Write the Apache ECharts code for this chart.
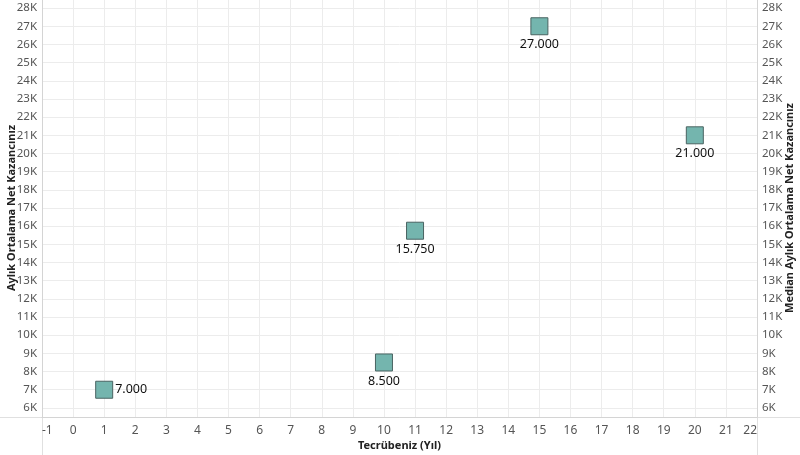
<!DOCTYPE html>
<html><head><meta charset="utf-8">
<script src="https://cdn.jsdelivr.net/npm/echarts@6/dist/echarts.min.js"></script>
<style>html,body{margin:0;padding:0;background:#fff}#c{width:800px;height:455px}</style>
</head><body><div id="c"></div>
<script>
const experienceYears = [1, 10, 11, 15, 20];
const netIncome = [7000, 8500, 15750, 27000, 21000];
const yTicks = [6000,7000,8000,9000,10000,11000,12000,13000,14000,15000,16000,17000,18000,19000,20000,21000,22000,23000,24000,25000,26000,27000,28000];

function fmtNum(v){ return String(v).replace(/\B(?=(\d{3})+(?!\d))/g, '.'); }
const FONT = 'Noto Sans';
const chart = echarts.init(document.getElementById('c'), null, {renderer:'canvas'});
const data = experienceYears.map((x,i)=>({
  value:[x, netIncome[i]],
  label:{position: i===0 ? 'right' : 'bottom', distance: i===0 ? 2 : 3}
}));
const yAxisBase = {
  type:'value', min:5500, max:28500,
  axisLabel:{customValues:yTicks, formatter:v=>(v/1000)+'K', color:'#555', fontFamily:FONT, fontSize:11.5, margin:5},
  axisTick:{show:false, customValues:yTicks},
  splitLine:{show:true, lineStyle:{color:'#ececec', width:1}},
  axisLine:{show:true, onZero:false, lineStyle:{color:'#d4d4d4'}},
  nameLocation:'middle', nameRotate:90, nameMoveOverlap:false,
  nameTextStyle:{color:'#222', fontWeight:'bold', fontFamily:FONT, fontSize:11}
};
chart.setOption({
  animation:false,
  grid:{left:42, right:43, top:-1, bottom:38, outerBoundsMode:'none', containLabel:false},
  xAxis:{type:'value', min:-1, max:22, interval:1,
    axisLabel:{color:'#555', fontFamily:FONT, fontSize:12, margin:8, alignMinLabel:'left', alignMaxLabel:'right'},
    axisTick:{show:false},
    splitLine:{show:true, lineStyle:{color:'#ececec'}},
    axisLine:{show:true, onZero:false, lineStyle:{color:'#d4d4d4'}},
    name:'Tecrübeniz (Yıl)', nameLocation:'middle', nameGap:23, nameMoveOverlap:false,
    nameTextStyle:{color:'#222', fontWeight:'bold', fontFamily:FONT, fontSize:11}
  },
  yAxis:[
    Object.assign({}, yAxisBase, {position:'left', name:'Aylık Ortalama Net Kazancınız', nameGap:25}),
    Object.assign({}, yAxisBase, {position:'right', name:'Median Aylık Ortalama Net Kazancınız', nameGap:27,
      splitLine:{show:false}})
  ],
  graphic:[
    {type:'line', shape:{x1:0,y1:417.5,x2:800,y2:417.5}, style:{stroke:'#e0e0e0', lineWidth:1}, z:-1},
    {type:'line', shape:{x1:42.5,y1:417,x2:42.5,y2:455}, style:{stroke:'#e0e0e0', lineWidth:1}, z:-1},
    {type:'line', shape:{x1:757.5,y1:417,x2:757.5,y2:455}, style:{stroke:'#e0e0e0', lineWidth:1}, z:-1}
  ],
  series:[{
    type:'scatter', yAxisIndex:0, symbol:'rect', symbolSize:17,
    itemStyle:{color:'#74b5ae', borderColor:'#4a6462', borderWidth:1, opacity:1},
    label:{show:true, formatter:p=>fmtNum(p.value[1]), color:'#111', fontFamily:FONT, fontSize:12.5},
    data:data
  }]
});
</script></body></html>
